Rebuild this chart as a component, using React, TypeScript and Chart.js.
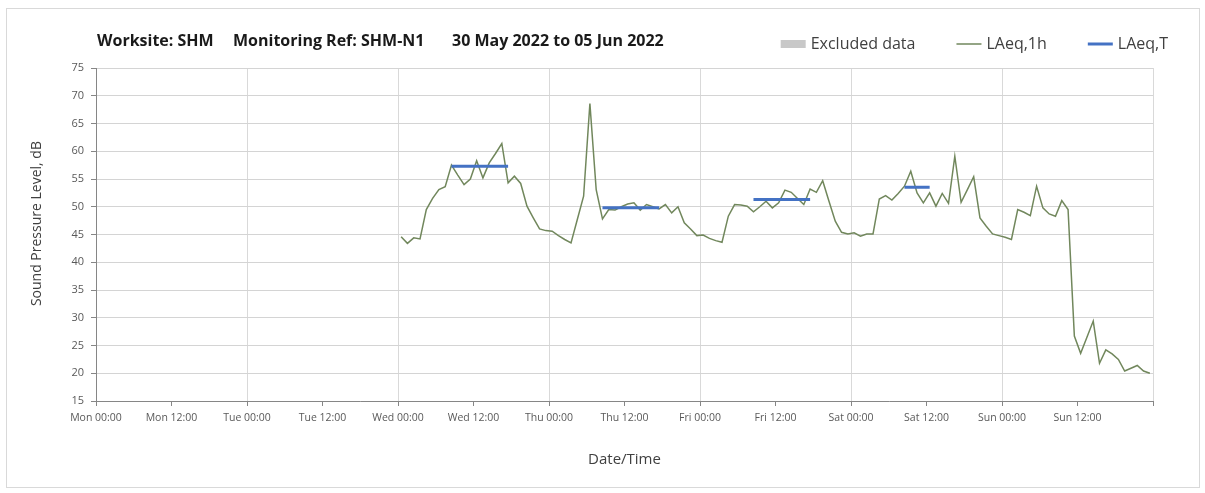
import React, { useEffect, useRef } from 'react';
import { Chart, registerables } from 'chart.js';

Chart.register(...registerables);

// ---- data ----
const titleParts = ['Worksite: SHM', 'Monitoring Ref: SHM-N1', '30 May 2022 to 05 Jun 2022'];
const xTitle = 'Date/Time';
const yTitle = '      Sound Pressure Level, dB';
const tickLabels = [
  'Mon 00:00', 'Mon 12:00', 'Tue 00:00', 'Tue 12:00', 'Wed 00:00', 'Wed 12:00', 'Thu 00:00',
  'Thu 12:00', 'Fri 00:00', 'Fri 12:00', 'Sat 00:00', 'Sat 12:00', 'Sun 00:00', 'Sun 12:00', '',
];
// hourly LAeq,1h starting Wed 00:00 (hour 48 counted from Mon 00:00)
const firstHour = 48;
const laeq1h = [
  44.6, 43.4, 44.4, 44.2, 49.5, 51.5, 53.1, 53.6, 57.5, 55.7, 54.0, 55.0, 58.3, 55.2, 57.9, 59.6,
  61.4, 54.3, 55.5, 54.2, 50.1, 48.0, 46.0, 45.7,
  45.6, 44.8, 44.1, 43.5, 47.7, 51.9, 68.6, 53.1, 47.8, 49.5, 49.4, 50.0, 50.5, 50.7, 49.4, 50.4,
  50.0, 49.6, 50.4, 48.9, 50.0, 47.1, 46.0, 44.8,
  44.9, 44.3, 43.9, 43.6, 48.3, 50.4, 50.3, 50.1, 49.1, 50.0, 51.0, 49.8, 50.7, 53.0, 52.6, 51.5,
  50.4, 53.2, 52.6, 54.7, 51.0, 47.4, 45.4, 45.1,
  45.3, 44.7, 45.1, 45.1, 51.4, 52.0, 51.2, 52.4, 53.7, 56.4, 52.5, 50.7, 52.5, 50.1, 52.4, 50.6,
  59.1, 50.8, 53.1, 55.4, 48.0, 46.5, 45.1, 44.8,
  44.5, 44.1, 49.5, 49.0, 48.4, 53.7, 49.8, 48.7, 48.3, 51.1, 49.5, 26.7, 23.6, 26.5, 29.4, 21.8,
  24.2, 23.5, 22.5, 20.4, 20.9, 21.4, 20.4, 20.0,
];
// LAeq,T periods (hours from Mon 00:00)
const periodStart = [56, 80, 104, 128];
const periodEnd = [66, 90, 114, 133];
const laeqT = [57.3, 49.8, 51.3, 53.5];

const FONT = '"Open Sans", "Noto Sans", sans-serif';

const headerPlugin = {
  id: 'header',
  afterDraw(chart: any) {
    const ctx = chart.ctx;
    ctx.save();
    // title
    ctx.font = `bold 16px ${FONT}`;
    ctx.fillStyle = '#1a1a1a';
    ctx.textBaseline = 'middle';
    ctx.textAlign = 'left';
    const starts = [90, 226, 445];
    titleParts.forEach((t, i) => {
      ctx.fillText(t, starts[i], 32);
    });
    // legend
    ctx.font = `16px ${FONT}`;
    const markerW = 25, markerGap = 5, itemGap = 41;
    const items = chart.data.datasets.map((ds: any) => ({ ds, w: ctx.measureText(ds.label).width }));
    const total = items.reduce((s: number, it: any) => s + markerW + markerGap + it.w, 0) + itemGap * (items.length - 1);
    let x = 1161 - total;
    const y = 35;
    items.forEach((it: any) => {
      const ds = it.ds;
      if (ds.pointStyle === 'rect') {
        ctx.fillStyle = ds.backgroundColor;
        ctx.fillRect(x, y - 4, markerW, 8);
      } else {
        ctx.strokeStyle = ds.borderColor;
        ctx.lineWidth = ds.borderWidth;
        ctx.beginPath();
        ctx.moveTo(x, y);
        ctx.lineTo(x + markerW, y);
        ctx.stroke();
      }
      x += markerW + markerGap;
      ctx.fillStyle = '#404040';
      ctx.fillText(ds.label, x, y);
      x += it.w + itemGap;
    });
    ctx.restore();
  },
};

export default function App() {
  const ref = useRef<HTMLCanvasElement>(null);
  useEffect(() => {
    if (!ref.current) return;
    const hourly = laeq1h.map((v, i) => ({ x: firstHour + i + 0.5, y: v }));
    const tPoints: any[] = [];
    laeqT.forEach((v, i) => {
      tPoints.push({ x: periodStart[i] + 0.5, y: v });
      tPoints.push({ x: periodEnd[i] - 0.5, y: v });
      tPoints.push({ x: periodEnd[i], y: null });
    });
    const chart = new Chart(ref.current, {
      type: 'line',
      data: {
        datasets: [
          { label: 'Excluded data', data: [], backgroundColor: '#c8c8c8', borderColor: '#c8c8c8', borderWidth: 0, pointStyle: 'rect', order: 2 } as any,
          { label: 'LAeq,1h', data: hourly, borderColor: '#71875c', borderWidth: 1.5, pointRadius: 0, tension: 0, pointStyle: 'line', order: 1 } as any,
          { label: 'LAeq,T', data: tPoints, borderColor: '#4472c4', borderWidth: 3, pointRadius: 0, spanGaps: false, pointStyle: 'line', order: 0 } as any,
        ],
      },
      options: {
        responsive: false,
        animation: false,
        layout: { padding: { top: 59, right: 46, bottom: 0, left: 0 } },
        plugins: { legend: { display: false }, title: { display: false }, tooltip: { enabled: false } },
        elements: { point: { radius: 0 } },
        scales: {
          x: {
            type: 'linear',
            min: 0,
            max: 168,
            afterFit: (s: any) => { s.height = 86; },
            ticks: {
              stepSize: 12,
              autoSkip: false,
              maxRotation: 0,
              padding: 6,
              color: '#595959',
              font: { family: FONT, size: 10.5 },
              callback: (v: any) => tickLabels[Math.round(Number(v) / 12)] ?? '',
            },
            grid: {
              color: (c: any) => (c.tick && c.tick.value % 24 === 0 ? '#d9d9d9' : 'rgba(0,0,0,0)'),
              tickColor: '#868686',
              tickLength: 5,
            },
            border: { color: '#868686' },
            title: { display: true, text: xTitle, color: '#404040', font: { family: FONT, size: 15 }, padding: { top: 0, bottom: 18 } },
          },
          y: {
            min: 15,
            max: 75,
            afterFit: (s: any) => { s.width = 89; },
            ticks: { stepSize: 5, padding: 7, color: '#595959', font: { family: FONT, size: 11 } },
            grid: { color: '#d4d4d4', tickColor: '#868686', tickLength: 5 },
            border: { color: '#868686' },
            title: { display: true, text: yTitle, color: '#404040', font: { family: FONT, size: 14 }, padding: { top: 22, bottom: 0 } },
          },
        },
      },
      plugins: [headerPlugin],
    });
    return () => chart.destroy();
  }, []);
  return (
    <div style={{ position: 'absolute', left: 6, top: 8, width: 1192, height: 478, border: '1px solid #d9d9d9', background: '#fff' }}>
      <canvas ref={ref} width={1192} height={478} />
    </div>
  );
}
